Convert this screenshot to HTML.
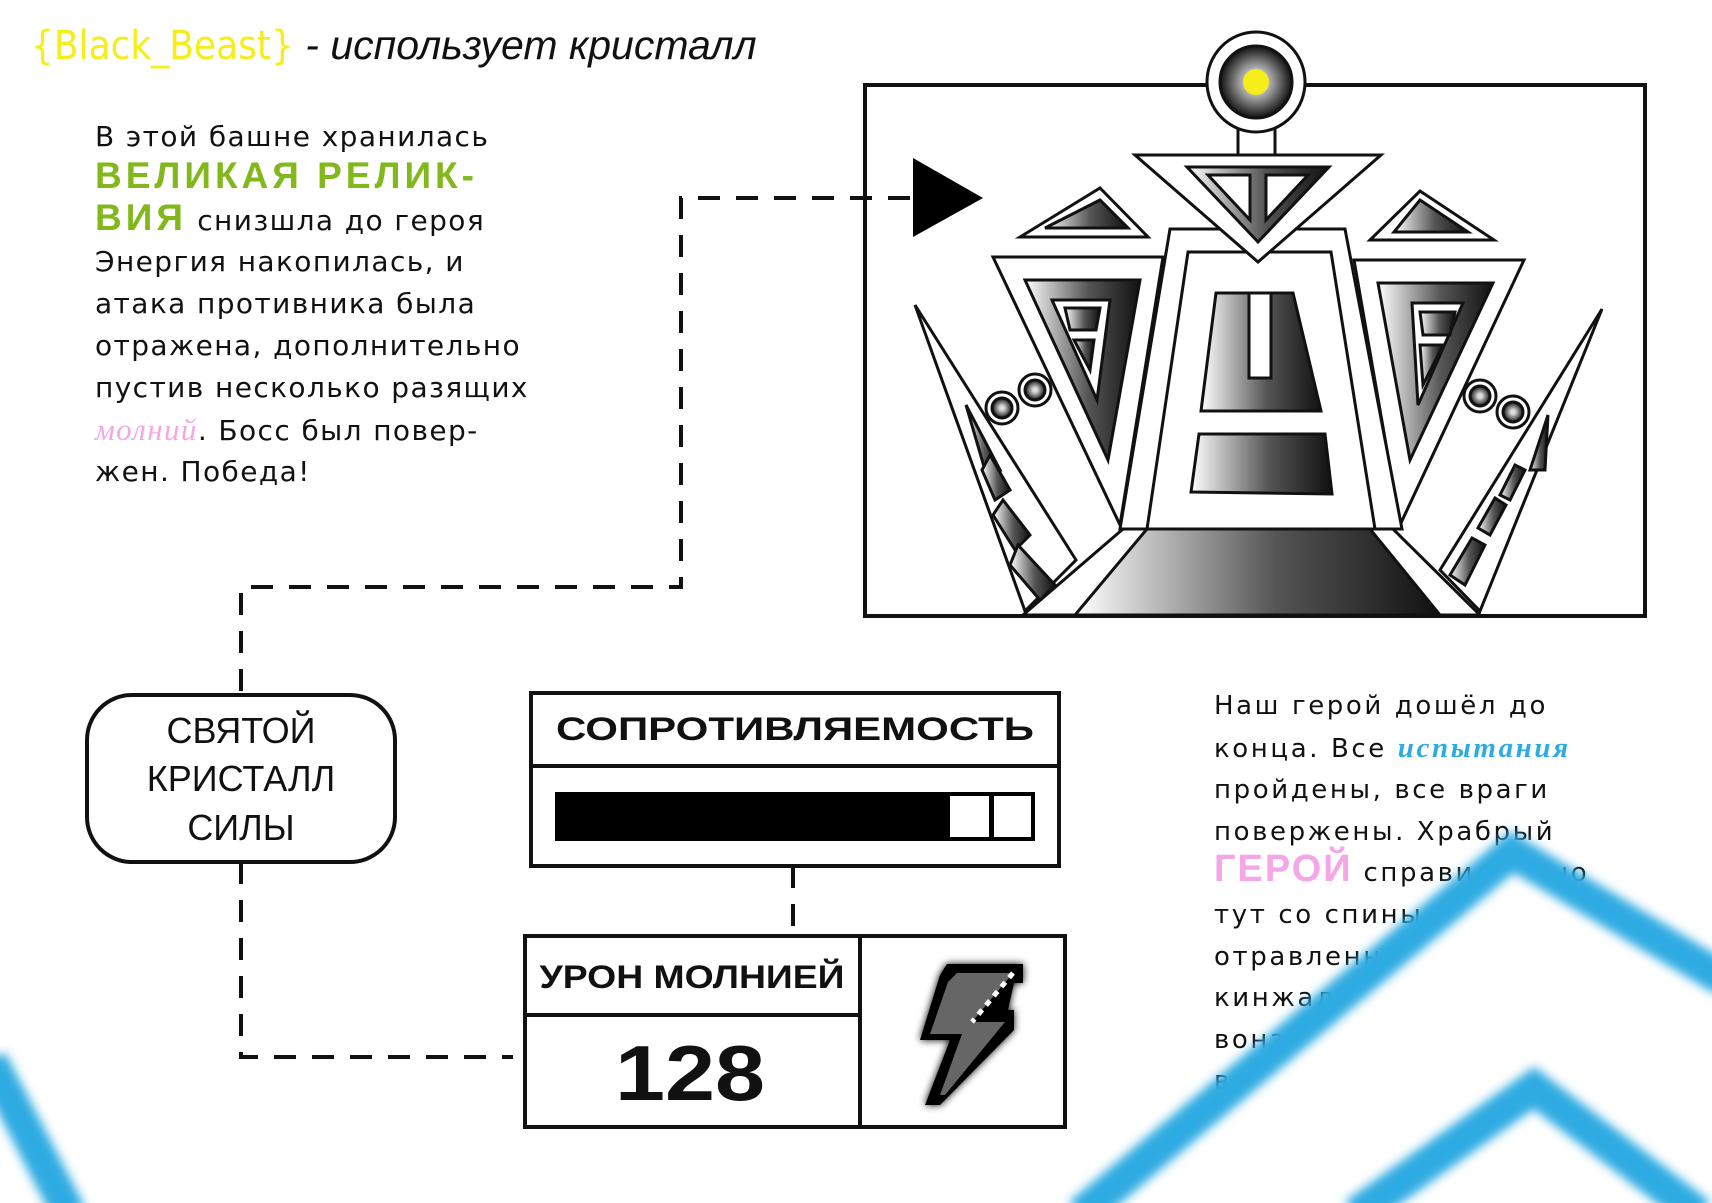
<!DOCTYPE html>
<html><head><meta charset="utf-8"><style>
body{margin:0;width:1712px;height:1203px;background:#fff;position:relative;overflow:hidden;font-family:"Liberation Sans","DejaVu Sans",sans-serif}
.a{position:absolute;white-space:nowrap}
.p1{left:95px;top:116px;font-family:"DejaVu Sans",sans-serif;font-size:28px;line-height:41.8px;letter-spacing:1.4px;color:#111}
.p2{left:1214px;top:686px;font-family:"DejaVu Sans",sans-serif;font-size:26px;line-height:41.6px;letter-spacing:2.6px;color:#111}
.tech{font-family:"Liberation Sans",sans-serif;font-weight:bold;display:inline-block;line-height:30px;vertical-align:baseline}
</style></head><body>
<div class="a" style="left:31px;top:22px;font-size:40px;color:#f5ee1a;font-family:'DejaVu Sans Condensed','Liberation Sans Narrow',sans-serif">{Black_Beast} <span style="color:#111;font-style:italic;font-family:'Liberation Sans',sans-serif;font-size:41px">- использует кристалл</span></div>

<div class="a p1">В этой башне хранилась<br><span class="tech" style="color:#82b81c;font-size:37px;letter-spacing:4px">ВЕЛИКАЯ РЕЛИК-</span><br><span class="tech" style="color:#82b81c;font-size:37px;letter-spacing:4px">ВИЯ</span> снизшла до героя<br>Энергия накопилась, и<br>атака противника была<br>отражена, дополнительно<br>пустив несколько разящих<br><span style="color:#f4a6e6;font-style:italic;font-family:'Liberation Serif',serif;font-size:31px">молний</span>. Босс был повер-<br>жен. Победа!</div>

<div class="a p2">Наш герой дошёл до<br>конца. Все <span style="color:#2eabe2;font-style:italic;font-family:'Liberation Serif',serif;font-size:29px;font-weight:bold">испытания</span><br>пройдены, все враги<br>повержены. Храбрый<br><span class="tech" style="color:#f4a6e6;font-size:38px;letter-spacing:2px">ГЕРОЙ</span> справился, но<br>тут со спины<br>отравленный<br>кинжал был<br>вонзили<br>в спину</div>

<svg class="a" style="left:0;top:0" width="1712" height="1203" viewBox="0 0 1712 1203">
<defs>
<linearGradient id="g" x1="0" x2="1"><stop offset="0" stop-color="#fff"/><stop offset="0.55" stop-color="#555"/><stop offset="1" stop-color="#111"/></linearGradient>
<radialGradient id="rg"><stop offset="0.2" stop-color="#ddd"/><stop offset="1" stop-color="#111"/></radialGradient>
<filter id="bl"><feGaussianBlur stdDeviation="5"/></filter>
<filter id="sh"><feGaussianBlur stdDeviation="4"/></filter>
</defs>

<!-- image frame -->
<rect x="865" y="85" width="780" height="531" fill="#fff" stroke="#111" stroke-width="4"/>
<g stroke="#111" stroke-width="3" stroke-linejoin="miter">
<polygon points="1123,529 1393,529 1480,615 1023,615" fill="#fff"/>
<polygon points="1147,529 1370,529 1440,615 1075,615" fill="url(#g)"/>
<polygon points="915,305 1025,611 1076,560" fill="#fff"/>
<polygon points="966,405 1000,470 985,470" fill="url(#g)"/>
<polygon points="990,455 1010,490 995,500 982,470" fill="url(#g)"/>
<polygon points="1003,500 1030,535 1015,550 993,515" fill="url(#g)"/>
<polygon points="1018,545 1055,585 1040,600 1010,565" fill="url(#g)"/>
<polygon points="1602,309 1480,611 1440,570" fill="#fff"/>
<polygon points="1548,415 1530,470 1545,470" fill="url(#g)"/>
<polygon points="1525,470 1510,500 1500,495 1515,465" fill="url(#g)"/>
<polygon points="1506,505 1490,535 1478,528 1495,498" fill="url(#g)"/>
<polygon points="1485,545 1465,585 1450,575 1472,538" fill="url(#g)"/>
<polygon points="993,257 1163,257 1120,525" fill="#fff"/>
<polygon points="1025,280 1140,280 1108,460" fill="url(#g)"/>
<polygon points="1052,300 1110,300 1097,400" fill="#fff"/>
<polygon points="1065,308 1100,308 1096,330 1070,330" fill="url(#g)"/>
<polygon points="1074,340 1094,340 1090,370" fill="url(#g)"/>
<polygon points="1354,260 1524,260 1400,525" fill="#fff"/>
<polygon points="1378,283 1493,283 1410,460" fill="url(#g)"/>
<polygon points="1412,303 1463,303 1418,405" fill="#fff"/>
<polygon points="1420,312 1455,312 1450,335 1423,335" fill="url(#g)"/>
<polygon points="1420,345 1443,345 1423,385" fill="url(#g)"/>
<polygon points="1020,237 1148,237 1100,188" fill="#fff"/>
<polygon points="1045,228 1128,228 1100,200" fill="url(#g)"/>
<polygon points="1370,240 1494,240 1420,191" fill="#fff"/>
<polygon points="1394,232 1468,232 1420,200" fill="url(#g)"/>
<polygon points="1170,229 1345,229 1402,529 1120,529" fill="#fff"/>
<polygon points="1188,252 1331,252 1375,529 1147,529" fill="#fff"/>
<polygon points="1216,293 1293,293 1321,411 1201,411" fill="url(#g)"/>
<rect x="1249" y="293" width="22" height="85" fill="#fff"/>
<polygon points="1199,434 1325,434 1332,494 1191,492" fill="url(#g)"/>
<polygon points="1135,155 1381,155 1258,262" fill="#fff"/>
<polygon points="1187,167 1329,167 1258,242" fill="url(#g)"/>
<polygon points="1208,175 1250,175 1250,220" fill="#fff"/>
<polygon points="1266,175 1308,175 1266,220" fill="#fff"/>
<rect x="1238" y="126" width="37" height="29" fill="#fff"/>
<ellipse cx="1256" cy="82" rx="49" ry="50" fill="#fff"/>
<circle cx="1256" cy="82" r="36" fill="url(#rg)"/>
<circle cx="1256" cy="82" r="13" fill="#f5ee1a" stroke="none"/>
<circle cx="1002" cy="408" r="16" fill="#fff"/><circle cx="1002" cy="408" r="10" fill="url(#rg)"/>
<circle cx="1035" cy="390" r="16" fill="#fff"/><circle cx="1035" cy="390" r="10" fill="url(#rg)"/>
<circle cx="1480" cy="396" r="16" fill="#fff"/><circle cx="1480" cy="396" r="10" fill="url(#rg)"/>
<circle cx="1513" cy="412" r="16" fill="#fff"/><circle cx="1513" cy="412" r="10" fill="url(#rg)"/>
</g>

<!-- dashed connectors -->
<g stroke="#111" stroke-width="4" fill="none" stroke-dasharray="22 16">
<polyline points="910,198 681,198 681,587 241,587 241,694"/>
<polyline points="241,862 241,1057 513,1057"/>
<line x1="793" y1="866" x2="793" y2="936"/>
</g>
<polygon points="913,158 983,198 913,237" fill="#000"/>

<!-- crystal box -->
<rect x="87" y="695" width="308" height="167" rx="45" fill="#fff" stroke="#111" stroke-width="4"/>
<g font-family="'Liberation Sans Narrow','Liberation Sans',sans-serif" font-size="36" text-anchor="middle" fill="#111">
<text x="241" y="743">СВЯТОЙ</text><text x="241" y="791">КРИСТАЛЛ</text><text x="241" y="840">СИЛЫ</text></g>

<!-- resistance box -->
<rect x="531" y="693" width="528" height="173" fill="#fff" stroke="#111" stroke-width="4"/>
<line x1="531" y1="766" x2="1059" y2="766" stroke="#111" stroke-width="4"/>
<text x="795" y="740" text-anchor="middle" font-family="'Liberation Sans',sans-serif" font-weight="bold" font-size="32" textLength="478" lengthAdjust="spacingAndGlyphs" fill="#111">СОПРОТИВЛЯЕМОСТЬ</text>
<rect x="555" y="792" width="480" height="49" fill="#000"/>
<rect x="950" y="796" width="39" height="41" fill="#fff"/>
<rect x="994" y="796" width="37" height="41" fill="#fff"/>

<!-- damage box -->
<rect x="525" y="936" width="540" height="191" fill="#fff" stroke="#111" stroke-width="4"/>
<line x1="860" y1="936" x2="860" y2="1127" stroke="#111" stroke-width="4"/>
<line x1="525" y1="1015" x2="860" y2="1015" stroke="#111" stroke-width="4"/>
<text x="692" y="988" text-anchor="middle" font-family="'Liberation Sans',sans-serif" font-weight="bold" font-size="32" textLength="305" lengthAdjust="spacingAndGlyphs" fill="#111">УРОН МОЛНИЕЙ</text>
<text x="690" y="1100" text-anchor="middle" font-family="'Liberation Sans',sans-serif" font-weight="bold" font-size="78" textLength="150" lengthAdjust="spacingAndGlyphs" fill="#111">128</text>
<polygon points="947,964 1023,964 1023,983 1014,983 1008,1010 1014,1010 1014,1030 940,1105 925,1105 950,1040 920,1040 940,975" fill="#000" filter="url(#sh)"/>
<polygon points="947,964 1023,964 1023,983 1014,983 1008,1010 1014,1010 1014,1030 940,1105 925,1105 950,1040 920,1040 940,975" fill="#000"/>
<polygon points="957,973 1013,973 972,1022 1005,1022 945,1095 940,1095 962,1034 930,1034 948,982" fill="#666"/>
<polyline points="1013,973 972,1022 M1005,1022 945,1095" fill="none" stroke="#fff" stroke-width="5" stroke-dasharray="6 6"/>

<!-- blue chevrons -->
<polygon points="1092,1203 1512,852 1712,972 1712,1203" fill="#fff"/>
<g stroke="#2eabe2" stroke-width="34" fill="none" filter="url(#bl)">
<polyline points="1080,1215 1512,852 1725,980"/>
<polyline points="1355,1215 1534,1088 1700,1215"/>
<line x1="-10" y1="1060" x2="70" y2="1215"/>
</g>
</svg>
</body></html>
